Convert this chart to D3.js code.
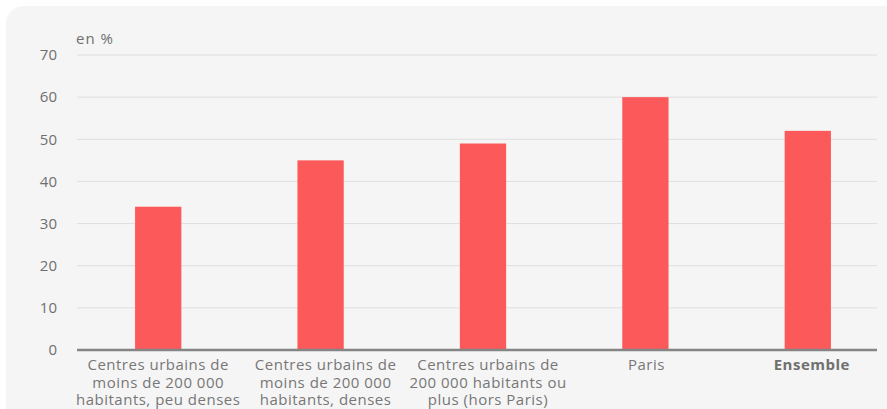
<!DOCTYPE html>
<html><head><meta charset="utf-8">
<script src="https://cdn.jsdelivr.net/npm/d3@7"></script>
<style>
html,body{margin:0;padding:0;background:#fff;}
svg{display:block;font-family:"Open Sans",sans-serif;}
</style></head>
<body>
<svg id="chart" width="887" height="409"></svg>
<script>
const categories = [
  ["Centres urbains de","moins de 200 000","habitants, peu denses"],
  ["Centres urbains de","moins de 200 000","habitants, denses"],
  ["Centres urbains de","200 000 habitants ou","plus (hors Paris)"],
  ["Paris"],
  ["Ensemble"]
];
const values = [34, 45, 49, 60, 52];
const yTicks = [0, 10, 20, 30, 40, 50, 60, 70];
const unitLabel = "en %";

(function(){
const svg = d3.select("#chart");
svg.append("rect").attr("x",6).attr("y",6).attr("width",900).attr("height",440)
  .attr("rx",18).attr("fill","#f5f5f5");

const mLeft = 77, mRight = 877, mTop = 55, mBottom = 350;
const x = d3.scaleBand().domain(d3.range(categories.length)).range([mLeft, 889]).paddingInner(0.715).paddingOuter(0.3575);
const y = d3.scaleLinear().domain([0, 70]).range([mBottom, mTop]);

svg.append("g").selectAll("line").data(yTicks.filter(d=>d>0)).join("line")
  .attr("x1",mLeft).attr("x2",mRight).attr("y1",d=>y(d)).attr("y2",d=>y(d))
  .attr("stroke","#dedede").attr("stroke-width",1);

const yAxis = d3.axisLeft(y).tickValues(yTicks).tickSize(0).tickPadding(0);
const gy = svg.append("g").attr("transform",`translate(${mLeft-20},0)`).call(yAxis);
gy.select(".domain").remove();
gy.selectAll("text").attr("font-size",15).attr("fill","#6f6f6f").attr("font-family","Open Sans").attr("dy","0.32em");

svg.append("text").attr("x",mLeft-1).attr("y",44).attr("font-size",15).attr("fill","#6f6f6f")
  .attr("letter-spacing","1").text(unitLabel);

svg.append("g").selectAll("rect").data(values).join("rect")
  .attr("x",(d,i)=>x(i)).attr("width",x.bandwidth())
  .attr("y",d=>y(d)).attr("height",d=>y(0)-y(d))
  .attr("fill","#fc5a5a");

svg.append("line").attr("x1",mLeft).attr("x2",mRight).attr("y1",mBottom).attr("y2",mBottom)
  .attr("stroke","#858585").attr("stroke-width",2.5);

const dxs = [0, 5, 5, 1, 4];
const lab = svg.append("g");
categories.forEach((lines,i)=>{
  const cx = x(i)+x.bandwidth()/2 + dxs[i];
  const t = lab.append("text").attr("text-anchor","middle").attr("font-size",15)
    .attr("letter-spacing","0.5")
    .attr("fill", i===4 ? "#707070" : "#777").attr("font-weight", i===4 ? "bold" : "normal");
  lines.forEach((l,j)=>{
    t.append("tspan").attr("x",cx).attr("y",370+j*17.7).text(l);
  });
});
})();
</script>
</body></html>
